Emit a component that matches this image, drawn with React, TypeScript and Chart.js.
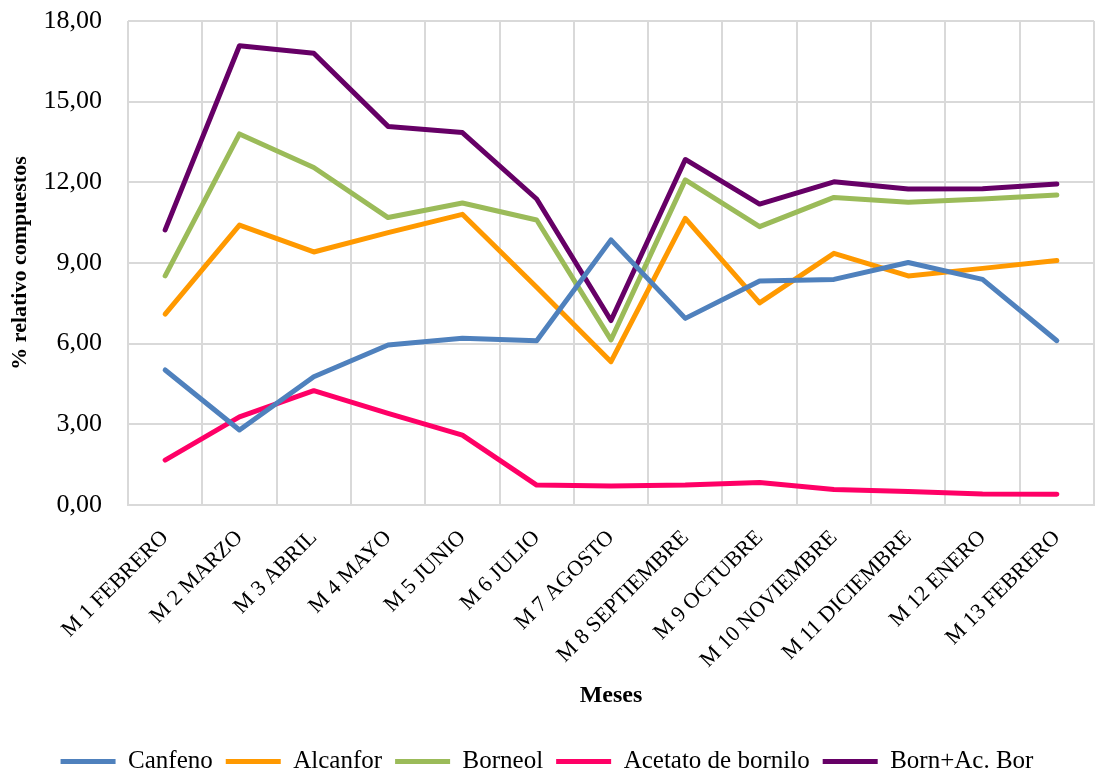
import React, { useEffect, useRef } from 'react';
import { Chart, registerables } from 'chart.js';

Chart.register(...registerables);

const categories = [
  'M 1 FEBRERO', 'M 2 MARZO', 'M 3 ABRIL', 'M 4 MAYO', 'M 5 JUNIO', 'M 6 JULIO',
  'M 7 AGOSTO', 'M 8 SEPTIEMBRE', 'M 9 OCTUBRE', 'M 10 NOVIEMBRE', 'M 11 DICIEMBRE',
  'M 12 ENERO', 'M 13 FEBRERO',
];

const canfeno = [5.02, 2.79, 4.77, 5.95, 6.2, 6.11, 9.86, 6.94, 8.33, 8.39, 9.02, 8.39, 6.11];
const alcanfor = [7.1, 10.41, 9.41, 10.13, 10.81, 8.1, 5.33, 10.66, 7.52, 9.36, 8.52, 8.8, 9.09];
const borneol = [8.52, 13.8, 12.55, 10.69, 11.23, 10.6, 6.14, 12.09, 10.35, 11.44, 11.26, 11.38, 11.53];
const acetatoBornilo = [1.67, 3.28, 4.25, 3.41, 2.6, 0.74, 0.71, 0.74, 0.84, 0.58, 0.5, 0.41, 0.4];
const bornAcBor = [10.23, 17.08, 16.8, 14.08, 13.85, 11.38, 6.86, 12.85, 11.19, 12.02, 11.75, 11.76, 11.94];

const seriesNames = ['Canfeno', 'Alcanfor', 'Borneol', 'Acetato de bornilo', 'Born+Ac. Bor'];
const seriesColors = ['#4F81BD', '#FF9900', '#9BBB59', '#FF0066', '#660066'];

const yMin = 0;
const yMax = 18;
const yStep = 3;

const yTitle = '% relativo compuestos';
const xTitle = 'Meses';

const FONT = "'Liberation Serif', 'Times New Roman', serif";

export default function App() {
  const canvasRef = useRef<HTMLCanvasElement | null>(null);

  useEffect(() => {
    const canvas = canvasRef.current;
    if (!canvas) return;
    const seriesData = [canfeno, alcanfor, borneol, acetatoBornilo, bornAcBor];
    const chart = new Chart(canvas, {
      type: 'line',
      data: {
        labels: categories,
        datasets: seriesData.map((d, i) => ({
          label: seriesNames[i],
          data: d,
          borderColor: seriesColors[i],
          backgroundColor: seriesColors[i],
          borderWidth: 5,
          borderJoinStyle: 'round',
          borderCapStyle: 'round',
          pointRadius: 0,
          tension: 0,
          fill: false,
        })),
      },
      options: {
        animation: false,
        responsive: false,
        maintainAspectRatio: false,
        layout: { padding: { top: 21, right: 3, left: 0, bottom: -6 } },
        scales: {
          x: {
            offset: true,
            grid: { offset: true, color: '#D9D9D9', lineWidth: 2, drawTicks: false },
            border: { color: '#D9D9D9', width: 2 },
            ticks: {
              autoSkip: false,
              minRotation: 45,
              maxRotation: 45,
              padding: 20,
              color: '#000',
              font: { family: FONT, size: 22 },
            },
            title: {
              display: true,
              text: xTitle,
              color: '#000',
              font: { family: FONT, size: 24, weight: 'bold' },
              padding: { top: 0, bottom: 26 },
            },
            afterFit: (scale: any) => {
              scale.height = 231;
            },
          },
          y: {
            min: yMin,
            max: yMax,
            grid: { color: '#D9D9D9', lineWidth: 2, drawTicks: false },
            border: { display: false },
            ticks: {
              stepSize: yStep,
              padding: 26,
              color: '#000',
              font: { family: FONT, size: 26 },
              callback: (v: any) => Number(v).toFixed(2).replace('.', ','),
            },
            title: {
              display: true,
              text: yTitle,
              color: '#000',
              font: { family: FONT, size: 22, weight: 'bold' },
              padding: { top: 7, bottom: 0 },
            },
            afterFit: (scale: any) => {
              scale.width = 128;
              scale.paddingTop = 0;
              scale.paddingBottom = 0;
            },
          },
        },
        plugins: {
          legend: {
            position: 'bottom',
            labels: {
              usePointStyle: true,
              pointStyle: 'line',
              pointStyleWidth: 55,
              padding: 13,
              color: '#000',
              font: { family: FONT, size: 25, lineHeight: 1 },
            },
          },
          tooltip: { enabled: false },
        },
      },
    });
    return () => chart.destroy();
  }, []);

  return (
    <div style={{ position: 'fixed', left: 0, top: 0, width: 1097, height: 778, background: '#fff' }}>
      <canvas ref={canvasRef} width={1097} height={778} style={{ width: 1097, height: 778, display: 'block' }} />
    </div>
  );
}
